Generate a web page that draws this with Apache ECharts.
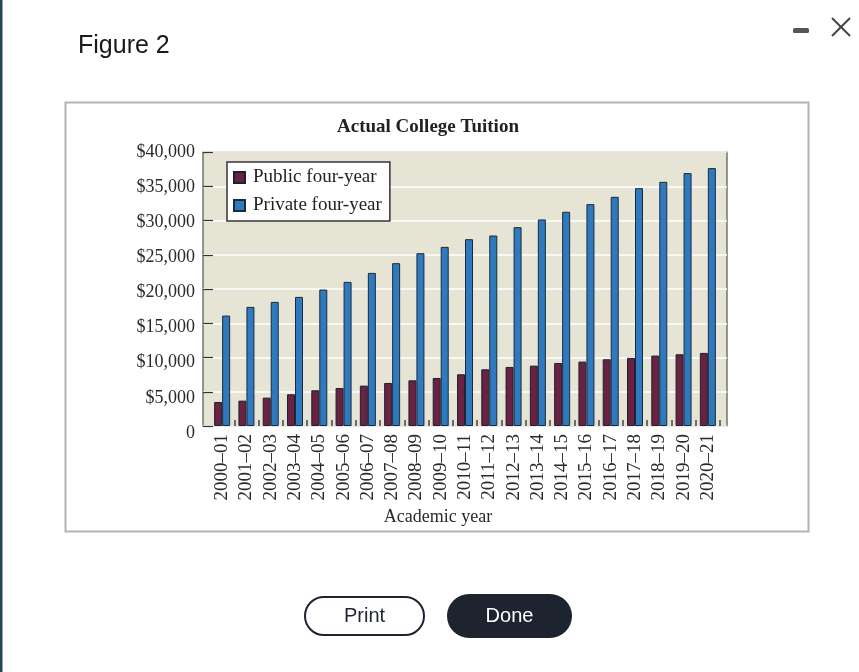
<!DOCTYPE html>
<html>
<head>
<meta charset="utf-8">
<script src="https://cdn.jsdelivr.net/npm/echarts@6/dist/echarts.min.js"></script>
<style>
html,body{margin:0;padding:0;background:#fff;}
#c{width:859px;height:672px;}
</style>
</head>
<body>
<div id="c"></div>
<script>
const years = ['2000–01','2001–02','2002–03','2003–04','2004–05','2005–06','2006–07','2007–08','2008–09','2009–10','2010–11','2011–12','2012–13','2013–14','2014–15','2015–16','2016–17','2017–18','2018–19','2019–20','2020–21'];
const publicTuition = [3510, 3700, 4140, 4630, 5210, 5550, 5890, 6280, 6670, 7010, 7550, 8280, 8620, 8810, 9200, 9400, 9740, 9940, 10280, 10470, 10670];
const privateTuition = [16120, 17390, 18120, 18850, 19920, 21040, 22350, 23770, 25230, 26150, 27270, 27810, 29030, 30150, 31270, 32390, 33460, 34720, 35650, 36920, 37650];
const seriesNames = ['Public four-year', 'Private four-year'];
const yMin = 0, yMax = 40000, yStep = 5000;
const chartTitle = 'Actual College Tuition';
const xAxisTitle = 'Academic year';
const figureTitle = 'Figure 2';

const serif = '"Liberation Serif", "Times New Roman", serif';
const sans = '"Liberation Sans", Arial, sans-serif';
const fmtMoney = v => v === 0 ? '0' : '$' + v.toLocaleString('en-US');

const chart = echarts.init(document.getElementById('c'), null, {renderer: 'canvas'});
chart.setOption({
  backgroundColor: '#ffffff',
  animation: false,
  legend: {
    data: seriesNames,
    orient: 'vertical',
    left: 227, top: 162,
    backgroundColor: '#ffffff',
    borderColor: '#333',
    borderWidth: 1.5,
    borderRadius: 0,
    padding: [6, 8, 6, 6],
    itemGap: 9,
    itemWidth: 11, itemHeight: 11,
    icon: 'rect',
    textStyle: {fontFamily: serif, fontSize: 19, color: '#222', padding: [0, 0, 0, 3]}
  },
  grid: [
    {left: 203, top: 152, width: 524, height: 274, show: true, backgroundColor: '#e6e4d4', borderColor: '#55554d', borderWidth: 1.2, z: 0},
    {left: 210, top: 152, width: 510, height: 274, show: false},
    {left: 203, top: 152, width: 524, height: 281, show: false}
  ],
  xAxis: [
    {gridIndex: 0, type: 'value', min: 0, max: 1, show: false},
    {gridIndex: 1, type: 'category', data: years,
      axisLine: {show: false},
      axisTick: {show: true, inside: true, length: 6, interval: (i) => i !== 0, lineStyle: {color: '#4a4838', width: 1.5}},
      axisLabel: {rotate: 90, margin: 8, fontFamily: serif, fontSize: 19, color: '#2a2a2a', interval: 0}
    },
    {gridIndex: 2, type: 'value', min: 0, max: 1, show: false}
  ],
  yAxis: [
    {gridIndex: 0, type: 'value', min: yMin, max: yMax, interval: yStep,
      axisLine: {show: false},
      axisTick: {show: true, inside: true, length: 10, lineStyle: {color: '#333', width: 1.2}},
      axisLabel: {show: false},
      splitLine: {show: true, lineStyle: {color: '#ffffff', width: 1.6}}
    },
    {gridIndex: 1, type: 'value', min: yMin, max: yMax, interval: yStep, show: false},
    {gridIndex: 2, type: 'value', min: yMin, max: yMax, interval: yStep,
      axisLine: {show: false}, axisTick: {show: false}, splitLine: {show: false},
      axisLabel: {margin: 8, formatter: fmtMoney, fontFamily: serif, fontSize: 18, color: '#2a2a2a'}
    }
  ],
  series: [
    {name: seriesNames[0], type: 'bar', xAxisIndex: 1, yAxisIndex: 1, data: publicTuition,
      barWidth: 8, barGap: '0%',
      itemStyle: {color: '#6b2142', borderColor: '#1c2230', borderWidth: 1}},
    {name: seriesNames[1], type: 'bar', xAxisIndex: 1, yAxisIndex: 1, data: privateTuition,
      barWidth: 8, barGap: '0%',
      itemStyle: {color: '#2f7abf', borderColor: '#1c2a3a', borderWidth: 1}}
  ],
  graphic: [
    {type: 'rect', left: 0, top: 0, shape: {width: 2.5, height: 672}, style: {fill: '#27475a'}, z: 10},
    {type: 'text', style: {text: figureTitle, x: 78, y: 46, verticalAlign: 'middle', font: '400 25px ' + sans, fill: '#1a1a1a'}, z: 10},
    {type: 'rect', left: 793, top: 28, shape: {width: 16, height: 5, r: 1.5}, style: {fill: '#555'}, z: 10},
    {type: 'line', shape: {x1: 832, y1: 18, x2: 850, y2: 36}, style: {stroke: '#444', lineWidth: 2}, z: 10},
    {type: 'line', shape: {x1: 850, y1: 18, x2: 832, y2: 36}, style: {stroke: '#444', lineWidth: 2}, z: 10},
    {type: 'rect', shape: {x: 65.5, y: 102.5, width: 743, height: 429}, style: {fill: 'none', stroke: '#b3b3b3', lineWidth: 2}, z: 10},
    {type: 'text', style: {text: chartTitle, x: 428, y: 127, align: 'center', verticalAlign: 'middle', font: 'bold 19px ' + serif, fill: '#222'}, z: 10},
    {type: 'text', style: {text: xAxisTitle, x: 438, y: 517, align: 'center', verticalAlign: 'middle', font: '18px ' + serif, fill: '#2a2a2a'}, z: 10},
    {type: 'rect', shape: {x: 305, y: 597, width: 119, height: 38, r: 19}, style: {fill: '#fff', stroke: '#1e2330', lineWidth: 2}, z: 10},
    {type: 'text', style: {text: 'Print', x: 364.5, y: 616, align: 'center', verticalAlign: 'middle', font: '20px ' + sans, fill: '#1e2330'}, z: 11},
    {type: 'rect', shape: {x: 447, y: 594, width: 125, height: 44, r: 22}, style: {fill: '#1e2330'}, z: 10},
    {type: 'text', style: {text: 'Done', x: 509.5, y: 616, align: 'center', verticalAlign: 'middle', font: '20px ' + sans, fill: '#ffffff'}, z: 11}
  ]
});
</script>
</body>
</html>
